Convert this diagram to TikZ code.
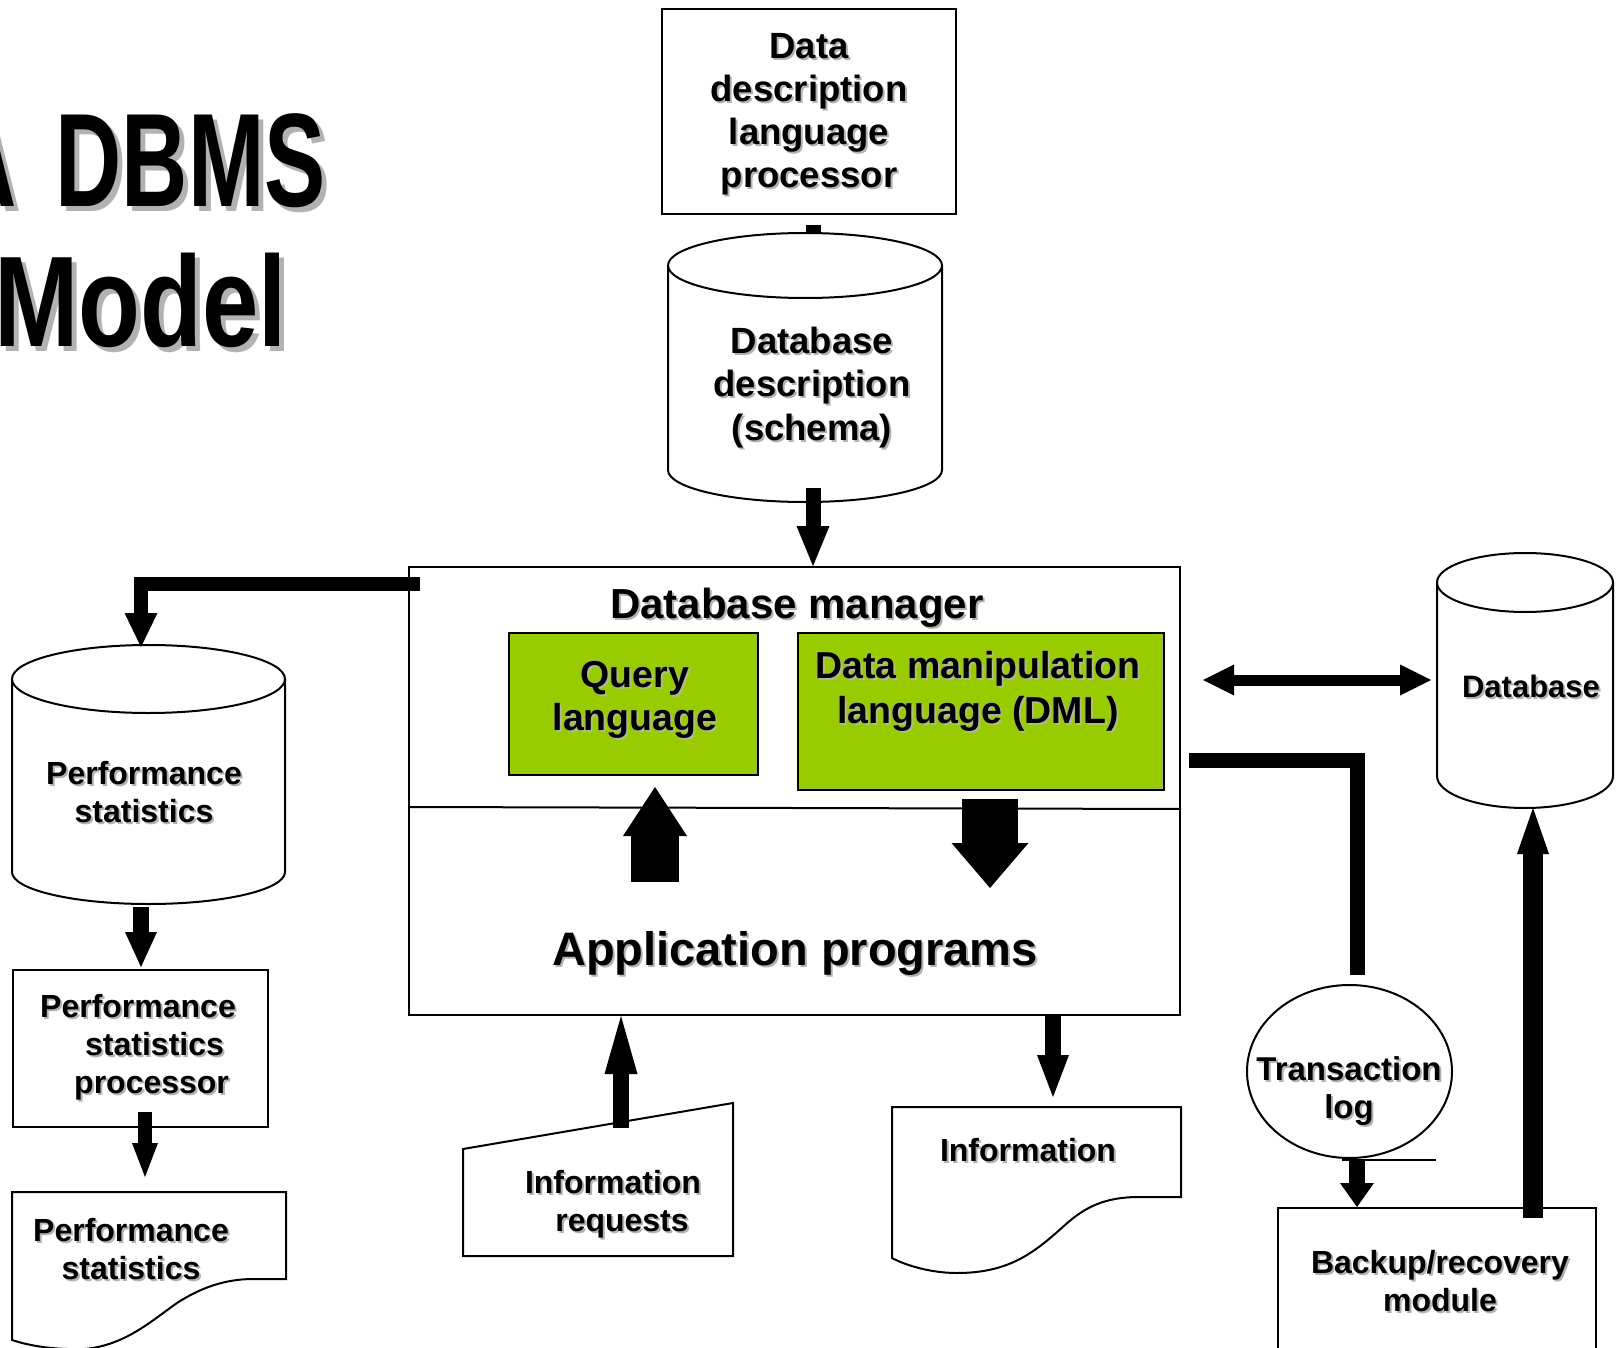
\documentclass[tikz,border=0pt]{standalone}
\usepackage{graphicx}
\usepackage{fontspec}
\setmainfont{Liberation Sans}
\usetikzlibrary{arrows.meta,shapes.geometric}
\definecolor{dmlgreen}{HTML}{99CC00}
\newcommand\shd[1]{\leavevmode\rlap{\kern2pt\raisebox{-2pt}{\textcolor{black!30}{#1}}}#1}
\newcommand\fsz[2]{\fontsize{#1}{#2}\selectfont\bfseries}
\newcommand\cyl[6]{%
  \filldraw[fill=white, line width=2pt] ({#1-#3},#2) -- ({#1-#3},#5)
    .. controls ({#1-#3},{#5+0.5523*#6}) and ({#1-0.5523*#3},{#5+#6}) .. (#1,{#5+#6})
    .. controls ({#1+0.5523*#3},{#5+#6}) and ({#1+#3},{#5+0.5523*#6}) .. ({#1+#3},#5)
    -- ({#1+#3},#2);
  \filldraw[fill=white, line width=2pt] (#1,#2) ellipse [x radius=#3, y radius=#4];
}
\begin{document}
\begin{tikzpicture}[x=1pt,y=-1pt,
  box/.style={draw, line width=2pt, fill=white, inner sep=0pt},
  gbox/.style={draw, line width=2.5pt, fill=dmlgreen, inner sep=0pt},
  txt/.style={inner sep=0pt, align=center, anchor=base},
  ba/.style n args={3}{line width=#1pt, -{Triangle[length=#3pt, width=#2pt, line width=0pt]}},
  dba/.style n args={3}{line width=#1pt, {Triangle[length=#3pt, width=#2pt, line width=0pt]}-{Triangle[length=#3pt, width=#2pt, line width=0pt]}},
  doc/.style={draw, line width=2pt, fill=white}]
\useasboundingbox (0,0) rectangle (1620,1348);

% ---------------- title ----------------
\node[inner sep=0pt, anchor=base east, text=black!30] at (331,212) {\fsz{133}{140}\scalebox{0.69}[1]{A\hspace{20pt} DBMS}};
\node[inner sep=0pt, anchor=base east] (title1) at (326,207) {\fsz{133}{140}\scalebox{0.69}[1]{A\hspace{20pt} DBMS}};
\node[inner sep=0pt, anchor=base west, text=black!30] at (-1,352) {\fsz{129}{135}\scalebox{0.785}[1]{Model}};
\node[inner sep=0pt, anchor=base west] (title2) at (-6,347) {\fsz{129}{135}\scalebox{0.785}[1]{Model}};

% ---------------- DDL processor and schema ----------------
\node[box, minimum width=294, minimum height=205] (ddl) at (809,111.5) {};
\node[txt, font=\fsz{36.5}{43}] (ddl-t) at (809,188) {\shd{Data}\\\shd{description}\\\shd{language}\\\shd{processor}};
\draw[line width=15pt] ([xshift=4pt,yshift=-10pt]ddl.south) -- ([xshift=4pt,yshift=-26pt]ddl.south);
\cyl{805}{265.5}{137}{32.5}{470}{32}
\node[txt, font=\fsz{36.5}{43.5}] (schema) at (812,440) {\shd{Database}\\\shd{description}\\\shd{(schema)}};
\coordinate (schema-b) at (813,488);

% ---------------- database manager ----------------
\node[box, minimum width=771, minimum height=448] (dbm) at (794.5,791) {};
\draw[line width=2pt] (dbm.west |- 0,807) -- (dbm.east |- 0,809);
\node[txt, font=\fsz{42}{48}] (dbm-t) at (797,618) {\shd{Database manager}};
\node[gbox, minimum width=249, minimum height=142] (ql) at (633.5,704) {};
\node[txt, font=\fsz{37.5}{43}] (ql-t) at (635,730) {\shd{Query}\\\shd{language}};
\node[gbox, minimum width=366, minimum height=157] (dml) at (981,711.5) {};
\node[txt, font=\fsz{37.5}{45}] (dml-t) at (978,723) {\shd{Data manipulation}\\\shd{language (DML)}};
\node[txt, font=\fsz{47}{52}] (app) at (795,965) {\shd{Application programs}};
\coordinate (ql-a1) at (655,882);
\coordinate (ql-a2) at (655,787);
\coordinate (dml-a1) at (990,799);
\coordinate (dml-a2) at (990,888);
\draw[ba={48}{64}{49}] (ql-a1) -- (ql-a2);
\draw[ba={56}{77}{45}] (dml-a1) -- (dml-a2);
\draw[ba={15}{33}{40}] (schema-b) -- (schema-b |- dbm.north);

% ---------------- performance statistics (left) ----------------
\cyl{148.5}{679}{136.5}{34}{872}{32}
\node[txt, font=\fsz{32}{38}] (ps) at (144,822) {\shd{Performance}\\\shd{statistics}};
\coordinate (lbar) at (420,584);
\coordinate (ps-top) at (141,647);
\draw[ba={14}{33}{34}] (lbar) -| (ps-top);
\coordinate (ps-b) at (141,907);
\coordinate (psp-top) at (141,967);
\node[box, minimum width=255, minimum height=157] (psp) at (140.5,1048.5) {};
\node[txt, align=left, anchor=base west, font=\fsz{32}{38}] (psp-t) at (40,1093) {\shd{Performance}\\\hspace*{45pt}\shd{statistics}\\\hspace*{34pt}\shd{processor}};
\draw[ba={16}{32}{35}] (ps-b) -- (psp-top);
\filldraw[doc] (12,1192) -- (286,1192) -- (286,1279) -- (253,1279)
  .. controls (225,1279) and (200,1288) .. (177,1303)
  .. controls (150,1322) and (125,1345) .. (85,1349)
  .. controls (55,1350) and (30,1346) .. (12,1340) -- cycle;
\coordinate (psd-top) at (145,1177);
\coordinate (psp-b) at (145,1112);
\draw[ba={14}{26}{34}] (psp-b) -- (psd-top);
\node[txt, font=\fsz{32}{38}] (psd-t) at (131,1279) {\shd{Performance}\\\shd{statistics}};

% ---------------- information requests / information ----------------
\filldraw[doc] (463,1149) -- (733,1103) -- (733,1256) -- (463,1256) -- cycle;
\node[txt, font=\fsz{32}{38}] (ir-t) at (613,1231) {\shd{Information}\\\hspace*{18pt}\shd{requests}};
\coordinate (ir-top) at (621,1128);
\draw[ba={16}{33}{58}] (ir-top) -- (ir-top |- dbm.south);
\filldraw[doc] (892,1107) -- (1181,1107) -- (1181,1197) -- (1139,1197)
  .. controls (1105,1197) and (1085,1207) .. (1065,1225)
  .. controls (1035,1252) and (1010,1273) .. (957,1273)
  .. controls (930,1273) and (905,1265) .. (892,1258) -- cycle;
\node[txt, font=\fsz{32}{38}] (inf-t) at (1028,1161) {\shd{Information}};
\coordinate (inf-top) at (1053,1097);
\draw[ba={16}{32}{42}] (inf-top |- dbm.south) -- (inf-top);

% ---------------- database, transaction log, backup (right) ----------------
\cyl{1525}{582.5}{88}{29.5}{776}{32}
\node[txt, font=\fsz{31}{36}] (db-t) at (1531,697) {\shd{Database}};
\coordinate (db-w) at (1431,680);
\coordinate (dbm-e) at (1203,680);
\draw[dba={11}{31}{31}] (dbm-e) -- (db-w);
\coordinate (tl-bar) at (1189,760.5);
\coordinate (tl-top) at (1357,975);
\draw[line width=15pt] (tl-bar) -| (tl-top);
\node[ellipse, draw, line width=2pt, fill=white, minimum width=205, minimum height=173, inner sep=0pt] (tlog) at (1349.5,1071.5) {};
\node[txt, font=\fsz{33}{38}] (tlog-t) at (1349,1118) {\shd{Transaction}\\\shd{log}};
\draw[line width=1.5pt] (1342,1160) -- (1436,1160);
\node[box, minimum width=318, minimum height=200] (bk) at (1437,1308) {};
\node[txt, font=\fsz{32}{38}] (bk-t) at (1440,1311) {\shd{Backup/recovery}\\\shd{module}};
\coordinate (tl-b) at (1357,1160);
\draw[ba={16}{34}{24}] (tl-b) -- (tl-b |- bk.north);
\coordinate (bk-a) at (1533,1218);
\coordinate (db-b) at (1533,808);
\draw[ba={20}{32}{46}] (bk-a) -- (db-b);
\end{tikzpicture}
\end{document}
